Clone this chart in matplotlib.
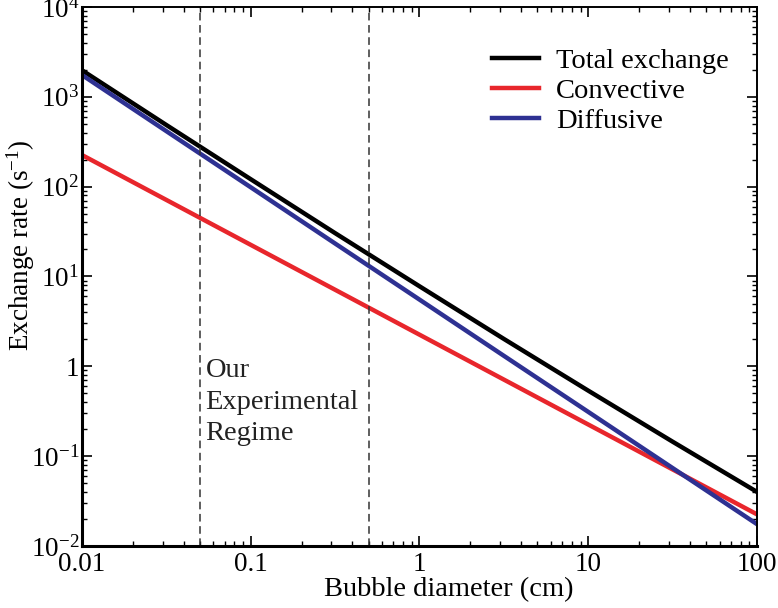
import matplotlib
matplotlib.use("Agg")
import matplotlib.pyplot as plt
from matplotlib.ticker import LogLocator, FixedLocator, FuncFormatter, NullFormatter
import numpy as np

# bubble diameters (cm) and exchange rates (1/s) read at half-decade steps
diameter = [0.01, 0.0316, 0.1, 0.316, 1, 3.16, 10, 31.6, 100]
convective = [225, 71.2, 22.5, 7.12, 2.25, 0.712, 0.225, 0.0712, 0.0225]
diffusive = [1750, 415, 98.4, 23.3, 5.53, 1.31, 0.311, 0.0738, 0.0175]
total = [1975, 486, 121, 30.4, 7.78, 2.02, 0.536, 0.145, 0.040]

# limits of the experimental regime (cm)
regime_edges = [0.05, 0.5]

x_ticks = [0.01, 0.1, 1, 10, 100]
x_ticklabels = ['0.01', '0.1', '1', '10', '100']
y_ticks = [1e-2, 1e-1, 1, 1e1, 1e2, 1e3, 1e4]

plt.rcParams['font.family'] = ['Liberation Serif', 'DejaVu Serif']
plt.rcParams['mathtext.fontset'] = 'custom'
plt.rcParams['mathtext.rm'] = 'Liberation Serif'
plt.rcParams['mathtext.it'] = 'Liberation Serif:italic'

fig = plt.figure(figsize=(7.78, 6.08), dpi=100)
ax = fig.add_axes([0.1054, 0.102, 0.8676, 0.8865])

ax.plot(diameter, total, color='black', lw=3.2, label='Total exchange')
ax.plot(diameter, convective, color='#e8262c', lw=3.2, label='Convective')
ax.plot(diameter, diffusive, color='#2e3192', lw=3.2, label='Diffusive')

for edge in regime_edges:
    ax.axvline(edge, color='#333333', lw=1.1, ls=(0, (5, 3)))

# x in data units, y as a fraction of the axes height
ax.text(0.054, 0.349, 'Our\nExperimental\nRegime', transform=ax.get_xaxis_transform(),
        fontsize=20.5, va='top', ha='left', linespacing=1.35, color='#222222')

ax.set_xscale('log')
ax.set_yscale('log')
ax.set_xlim(0.01, 100)
ax.set_ylim(1e-2, 1e4)

ax.xaxis.set_major_locator(FixedLocator(x_ticks))
ax.xaxis.set_major_formatter(FuncFormatter(lambda v, p: x_ticklabels[x_ticks.index(v)] if v in x_ticks else ''))
ax.xaxis.set_minor_locator(LogLocator(base=10, subs=np.arange(2, 10)))
ax.xaxis.set_minor_formatter(NullFormatter())


def ylab(v, pos):
    e = int(round(np.log10(v)))
    if e == 0:
        return '1'
    return r'$\mathregular{10^{%d}}$' % e


ax.yaxis.set_major_locator(FixedLocator(y_ticks))
ax.yaxis.set_major_formatter(FuncFormatter(ylab))
ax.yaxis.set_minor_locator(LogLocator(base=10, subs=np.arange(2, 10)))
ax.yaxis.set_minor_formatter(NullFormatter())

ax.tick_params(which='both', direction='in', top=True, right=True, labelsize=19.5)
ax.tick_params(which='major', length=7, width=1.2)
ax.tick_params(which='minor', length=3.5, width=1.0)
ax.tick_params(axis='x', pad=4)
ax.tick_params(axis='y', pad=2)

for side in ['left', 'bottom']:
    ax.spines[side].set_linewidth(2.2)
for side in ['top', 'right']:
    ax.spines[side].set_linewidth(1.4)

ax.set_xlabel('Bubble diameter (cm)', fontsize=20.5)
ax.set_ylabel(r'Exchange rate (s$\mathregular{^{-1}}$)', fontsize=19.5)
ax.xaxis.set_label_coords(0.544, -0.058)
ax.yaxis.set_label_coords(-0.066, 0.558)

ax.legend(loc='upper right', bbox_to_anchor=(0.958, 0.924), frameon=False, fontsize=20.5,
          handlelength=1.65, handletextpad=0.6, labelspacing=0.15,
          borderpad=0, borderaxespad=0)

fig.savefig('out.png', dpi=100)
